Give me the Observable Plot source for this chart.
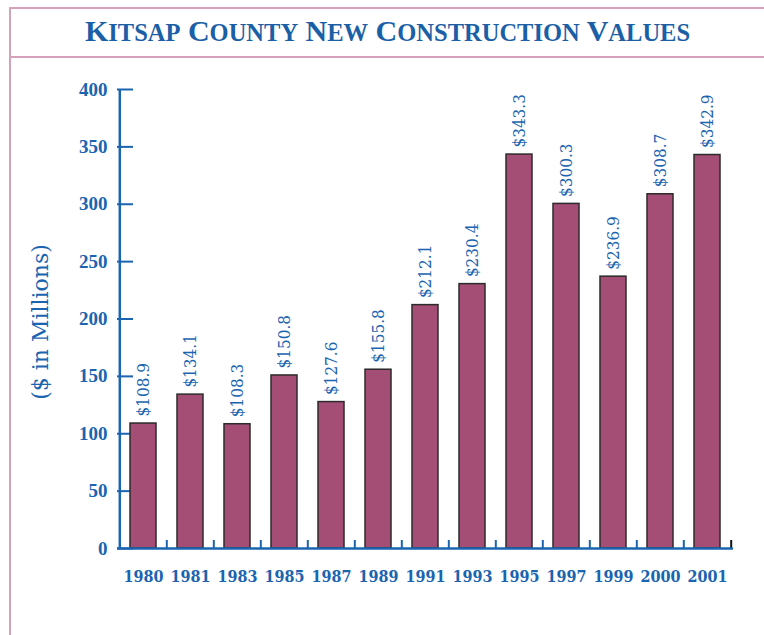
<!DOCTYPE html>
<html>
<head>
<meta charset="utf-8">
<script src="https://cdn.jsdelivr.net/npm/d3@7"></script>
<script src="https://cdn.jsdelivr.net/npm/@observablehq/plot@0.6"></script>
<style>
  html, body { margin: 0; padding: 0; background: #fff; width: 764px; height: 635px; overflow: hidden; }
  #frame { position: absolute; left: 9px; top: 7px; right: 0; bottom: 0;
           border-top: 2px solid #d4a3bb; border-left: 2px solid #d4a3bb; }
  #titlebar { position: absolute; left: 11px; top: 9px; right: 0; height: 47px;
              border-bottom: 2px solid #d4a3bb; }
  #title { position: absolute; left: 0; right: 0; top: 7px; text-align: center;
           font-family: "Liberation Serif", serif; font-weight: bold; color: #1b5fa6;
           line-height: 30px; font-size: 24.5px; white-space: nowrap; }
  #title .big { font-size: 30px; }
  #chart { position: absolute; left: 0; top: 58px; }
</style>
</head>
<body>
<div id="frame"></div>
<div id="titlebar"><div id="title"></div></div>
<div id="chart"></div>
<script>
const titleText = "Kitsap County New Construction Values";
const years = ["1980","1981","1983","1985","1987","1989","1991","1993","1995","1997","1999","2000","2001"];
const values = [108.9, 134.1, 108.3, 150.8, 127.6, 155.8, 212.1, 230.4, 343.3, 300.3, 236.9, 308.7, 342.9];
const yTicks = [0, 50, 100, 150, 200, 250, 300, 350, 400];
const yLabel = "($ in Millions)";

// title in small caps built from the text
document.getElementById("title").innerHTML = titleText.split(" ").map(w =>
  `<span class="big">${w[0].toUpperCase()}</span>${w.slice(1).toUpperCase()}`).join('<span class="big"> </span>');

const data = years.map((year, i) => ({year, value: values[i]}));
const blue = "#1a64b0";
const W = 764, H = 577, mL = 117, mR = 31, mT = 31, mB = 87;
const step = (W - mL - mR) / years.length;
const frameH = H - mT - mB;

const chart = Plot.plot({
  width: W, height: H,
  marginLeft: mL, marginRight: mR, marginTop: mT, marginBottom: mB,
  style: {fontFamily: "DejaVu Serif", background: "transparent", overflow: "visible"},
  x: {domain: years, paddingInner: 0.45, paddingOuter: 0.225, align: 0.5},
  y: {domain: [0, 400]},
  marks: [
    Plot.ruleY(yTicks, {y: d => d, stroke: blue, strokeWidth: 2, insetRight: (W - mL - mR) - 16}),
    Plot.barY(data, {x: "year", y: "value", fill: "#a44d75", stroke: "#2b2b2b", strokeWidth: 1.5}),
    Plot.ruleX(years.slice(1), {x: d => d, dx: -step / 2, insetTop: frameH - 8, stroke: blue, strokeWidth: 2}),
    Plot.ruleX([years[0]], {x: d => d, dx: -step / 2, stroke: blue, strokeWidth: 2.5}),
    Plot.ruleX([years[years.length - 1]], {x: d => d, dx: step / 2, insetTop: frameH - 8, stroke: "#111", strokeWidth: 2}),
    Plot.ruleY([0], {stroke: blue, strokeWidth: 2.5}),
    Plot.axisY({ticks: yTicks, tickSize: 0, tickPadding: 10, color: blue, fontSize: 19, fontWeight: "bold",
                fontFamily: "Liberation Serif", label: null}),
    Plot.axisX({tickSize: 0, tickPadding: 22, color: blue, fontSize: 16, fontWeight: "bold",
                fontFamily: "DejaVu Serif Condensed", label: null}),
    Plot.text(data, {x: "year", y: "value", text: d => "$" + d.value.toFixed(1), rotate: -90,
                     textAnchor: "start", dy: -7, fill: blue, fontSize: 17, fontFamily: "DejaVu Serif Condensed"}),
    Plot.text([yLabel], {text: d => d, frameAnchor: "left", textAnchor: "middle", rotate: -90, dx: -77, dy: 3,
                         fill: blue, fontSize: 22})
  ]
});
document.getElementById("chart").appendChild(chart);
</script>
</body>
</html>
